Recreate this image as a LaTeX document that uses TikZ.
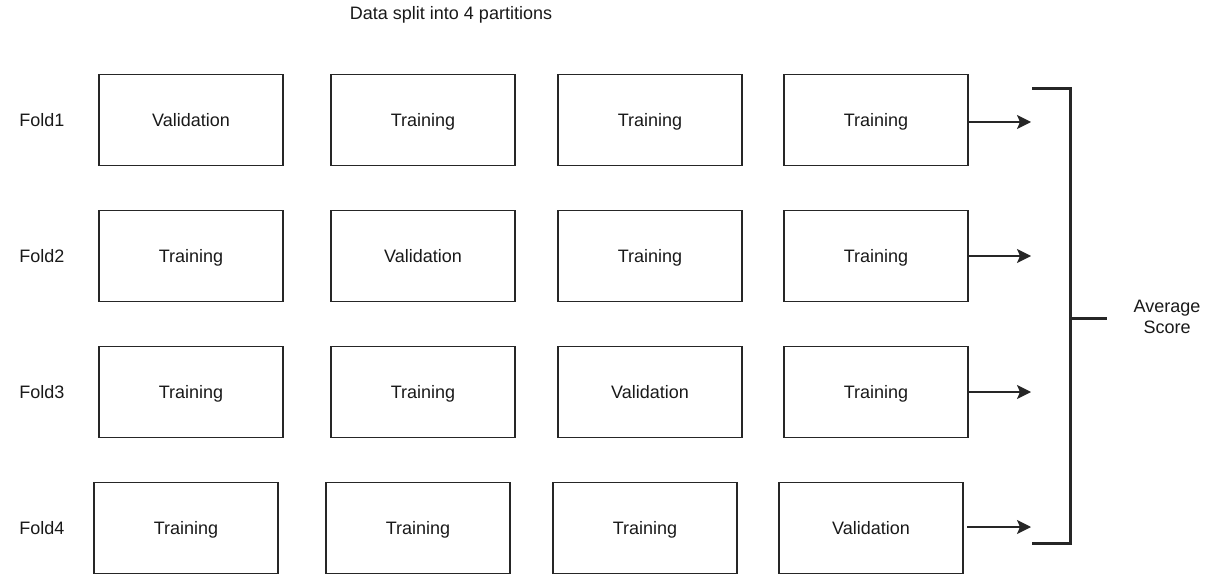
\documentclass[tikz,border=0pt]{standalone}
\usepackage{fontspec}
\setmainfont{Liberation Sans}
\usetikzlibrary{arrows.meta}
\begin{document}
\begin{tikzpicture}[x=1pt,y=-1pt,
  part/.style={draw=black!85, line width=1.6pt, minimum width=184pt, minimum height=91pt, inner sep=0pt, text height=13pt, text depth=0pt, font=\fontsize{18}{21}\selectfont, text=black!90},
  lbl/.style={font=\fontsize{18}{21}\selectfont, text=black!90, align=center},
  conn/.style={draw=black!85, line width=1.6pt, -{Stealth[length=14pt,width=14pt,inset=3pt]}},
  brk/.style={draw=black!85, line width=3pt}]
\useasboundingbox (0,0) rectangle (1208,583);
\node[lbl] (title) at (451,15) {Data split into 4 partitions};
% row 1
\node[lbl] (f1) at (42,120) {Fold1};
\node[part] (a1) at (191,120) {Validation};
\node[part] (b1) at (423,120) {Training};
\node[part] (c1) at (650,120) {Training};
\node[part] (d1) at (876,120) {Training};
% row 2
\node[lbl] (f2) at (42,256) {Fold2};
\node[part] (a2) at (191,256) {Training};
\node[part] (b2) at (423,256) {Validation};
\node[part] (c2) at (650,256) {Training};
\node[part] (d2) at (876,256) {Training};
% row 3
\node[lbl] (f3) at (42,392) {Fold3};
\node[part] (a3) at (191,392) {Training};
\node[part] (b3) at (423,392) {Training};
\node[part] (c3) at (650,392) {Validation};
\node[part] (d3) at (876,392) {Training};
% row 4
\node[lbl] (f4) at (42,528) {Fold4};
\node[part] (a4) at (186,528) {Training};
\node[part] (b4) at (418,528) {Training};
\node[part] (c4) at (645,528) {Training};
\node[part] (d4) at (871,528) {Validation};
% arrow ends
\coordinate (e1) at (1031,122);
\coordinate (e2) at (1031,256);
\coordinate (e3) at (1031,392);
\coordinate (e4) at (1031,527);
\draw[conn] (d1.east |- e1) -- (e1);
\draw[conn] (d2.east) -- (e2);
\draw[conn] (d3.east) -- (e3);
\draw[conn] (967,527) -- (e4);
% bracket
\coordinate (bt) at (1032,89);
\coordinate (bb) at (1032,543);
\coordinate (bm) at (1070,318);
\coordinate (bmr) at (1107,318);
\draw[brk] (bt) -- (1070,89) -- (1070,543) -- (bb);
\draw[brk] (bm) -- (bmr);
\node[lbl] (avg) at (1167,317) {Average\\Score};
\end{tikzpicture}
\end{document}
